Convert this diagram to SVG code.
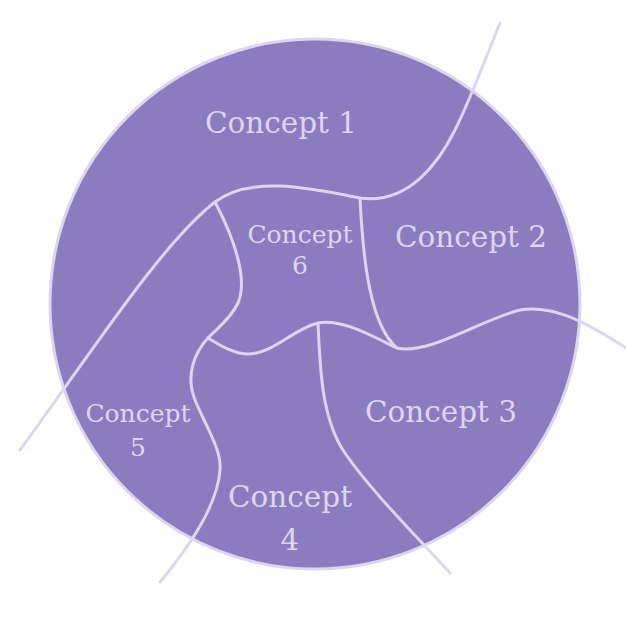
<svg xmlns="http://www.w3.org/2000/svg" width="626" height="620" viewBox="0 0 626 620">
<style>
.bg{fill:#8b7cbf;stroke:#dcd5ee;stroke-width:3}
.ln{fill:none;stroke:#dcd5ee;stroke-width:3;stroke-linecap:round}
.lb{font-family:"DejaVu Serif","Liberation Serif",serif;fill:#ddd6ee;text-anchor:middle}
.big{font-size:29.5px}
.sm{font-size:25px}
</style>
<rect width="626" height="620" fill="#ffffff"/>
<circle class="bg" cx="315" cy="304" r="265"/>
<g id="connectors">
<path class="ln" d="M20,450 C90,355 160,245 215,202 C250,175 310,188 360,198 C410,205 440,160 455,130 C470,100 485,60 500,23"/>
<path class="ln" d="M360,198 C363,260 370,325 397,348 C430,355 480,320 520,310 C550,305 580,318 626,348"/>
<path class="ln" d="M397,348 C370,335 340,318 318,323 C295,328 275,352 250,354 C235,355 220,345 208,338"/>
<path class="ln" d="M215,202 C235,240 248,280 238,303 C230,320 215,330 208,338 C195,352 185,375 195,400 C205,425 222,450 220,470 C218,500 195,540 160,582"/>
<path class="ln" d="M318,323 C320,370 322,420 345,453 C370,490 420,540 450,573"/>
</g>
<g id="concept1"><text class="lb big" x="281" y="133">Concept 1</text></g>
<g id="concept2"><text class="lb big" x="471" y="247">Concept 2</text></g>
<g id="concept3"><text class="lb big" x="441" y="422">Concept 3</text></g>
<g id="concept4"><text class="lb big" x="290" y="507">Concept</text><text class="lb big" x="290" y="550">4</text></g>
<g id="concept5"><text class="lb sm" x="138" y="422">Concept</text><text class="lb sm" x="138" y="456">5</text></g>
<g id="concept6"><text class="lb sm" x="300" y="243">Concept</text><text class="lb sm" x="300" y="274">6</text></g>
</svg>
